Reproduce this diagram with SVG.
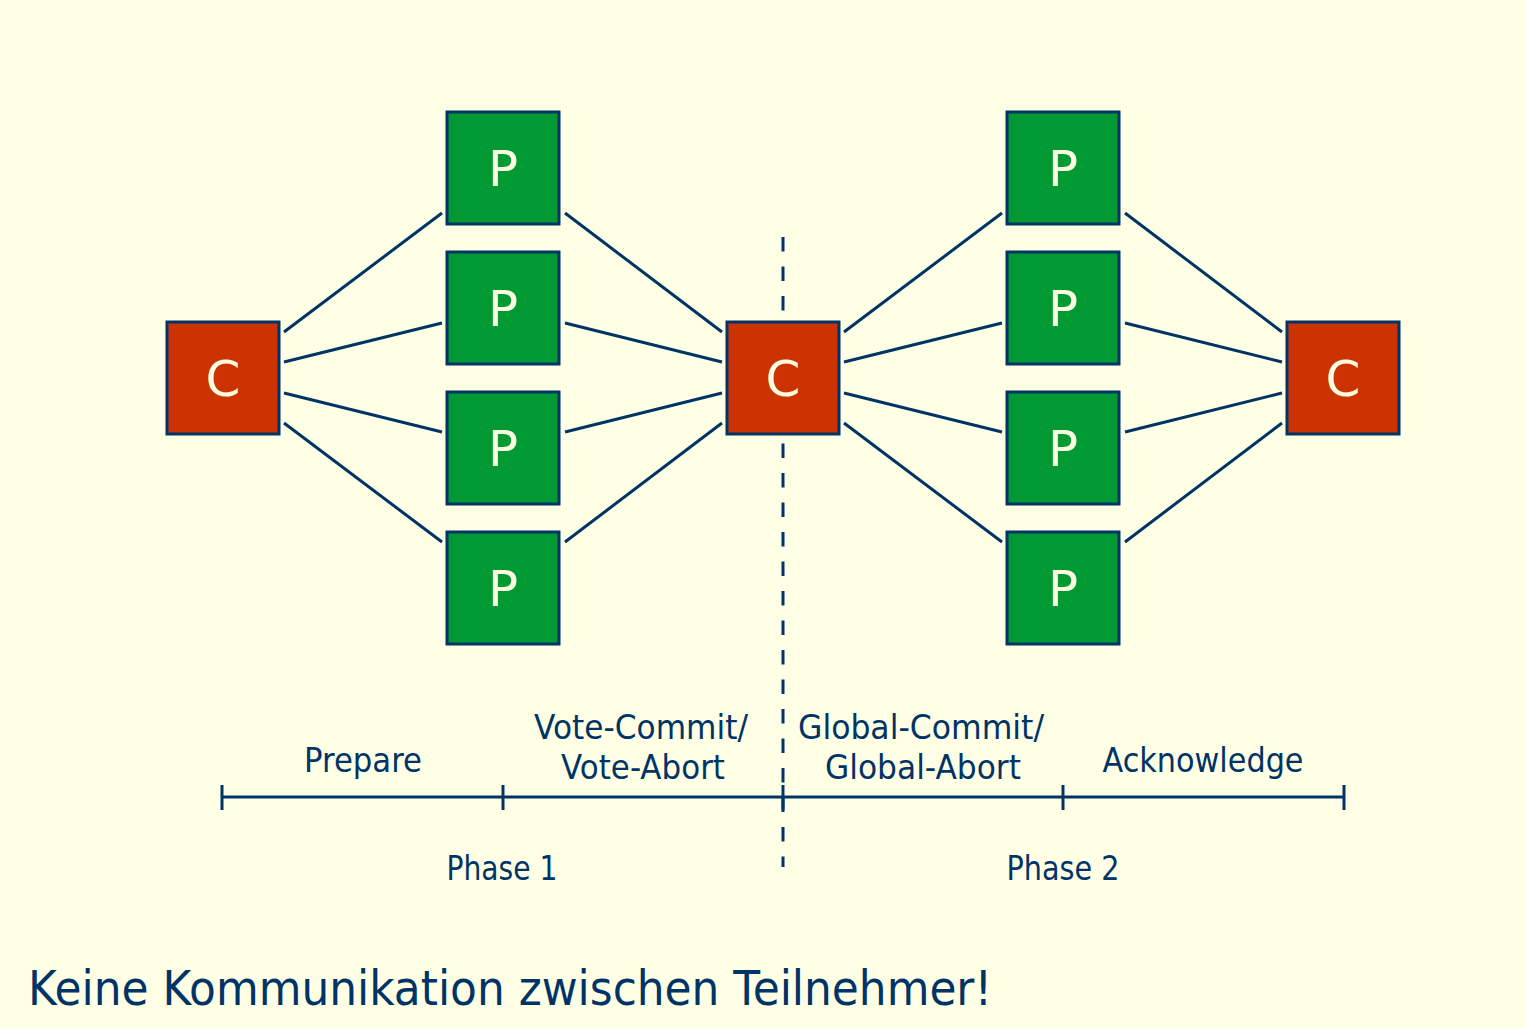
<svg xmlns="http://www.w3.org/2000/svg" width="1526" height="1028" viewBox="0 0 1526 1028">
<style>
.c rect{fill:#CC3300;stroke:#003366;stroke-width:3}
.p rect{fill:#009933;stroke:#003366;stroke-width:3}
.n text{fill:#FFFFE0;font-family:"DejaVu Sans",sans-serif;font-size:50px;text-anchor:middle}
.l{stroke:#003366;stroke-width:3;fill:none}
.t{fill:#003366;font-family:"DejaVu Sans",sans-serif;font-size:33px;text-anchor:middle}
</style>
<rect width="1526" height="1028" fill="#FFFFE5"/>
<g id="timeline" class="l">
<path d="M783 237V867" stroke-dasharray="14.5 15"/>
<path d="M222 797H1344M222 785V810M503 785V810M783 785V810M1063 785V810M1344 785V810"/>
</g>
<g id="connectors" class="l">
<path d="M284 332L442 213M284 362L442 323M284 393L442 432M284 423L442 542"/>
<path d="M565 213L722 332M565 323L722 362M565 432L722 393M565 542L722 423"/>
<path d="M844 332L1002 213M844 362L1002 323M844 393L1002 432M844 423L1002 542"/>
<path d="M1125 213L1282 332M1125 323L1282 362M1125 432L1282 393M1125 542L1282 423"/>
</g>
<g id="C1" class="n c"><rect x="167" y="322" width="112" height="112"/><text x="223" y="396">C</text></g>
<g id="C2" class="n c"><rect x="727" y="322" width="112" height="112"/><text x="783" y="396">C</text></g>
<g id="C3" class="n c"><rect x="1287" y="322" width="112" height="112"/><text x="1343" y="396">C</text></g>
<g id="P1a" class="n p"><rect x="447" y="112" width="112" height="112"/><text x="503" y="186">P</text></g>
<g id="P2a" class="n p"><rect x="447" y="252" width="112" height="112"/><text x="503" y="326">P</text></g>
<g id="P3a" class="n p"><rect x="447" y="392" width="112" height="112"/><text x="503" y="466">P</text></g>
<g id="P4a" class="n p"><rect x="447" y="532" width="112" height="112"/><text x="503" y="606">P</text></g>
<g id="P1b" class="n p"><rect x="1007" y="112" width="112" height="112"/><text x="1063" y="186">P</text></g>
<g id="P2b" class="n p"><rect x="1007" y="252" width="112" height="112"/><text x="1063" y="326">P</text></g>
<g id="P3b" class="n p"><rect x="1007" y="392" width="112" height="112"/><text x="1063" y="466">P</text></g>
<g id="P4b" class="n p"><rect x="1007" y="532" width="112" height="112"/><text x="1063" y="606">P</text></g>
<g id="labels" class="t">
<text x="363" y="772" textLength="118" lengthAdjust="spacingAndGlyphs">Prepare</text>
<text x="641" y="739" textLength="214" lengthAdjust="spacingAndGlyphs">Vote-Commit/</text>
<text x="643" y="779" textLength="164" lengthAdjust="spacingAndGlyphs">Vote-Abort</text>
<text x="921" y="739" textLength="246" lengthAdjust="spacingAndGlyphs">Global-Commit/</text>
<text x="923" y="779" textLength="196" lengthAdjust="spacingAndGlyphs">Global-Abort</text>
<text x="1203" y="772" textLength="201" lengthAdjust="spacingAndGlyphs">Acknowledge</text>
<text x="502" y="880" textLength="111" lengthAdjust="spacingAndGlyphs">Phase 1</text>
<text x="1063" y="880" textLength="113" lengthAdjust="spacingAndGlyphs">Phase 2</text>
<text x="28" y="1005" style="font-size:48px;text-anchor:start" textLength="964" lengthAdjust="spacingAndGlyphs">Keine Kommunikation zwischen Teilnehmer!</text>
</g>
</svg>
